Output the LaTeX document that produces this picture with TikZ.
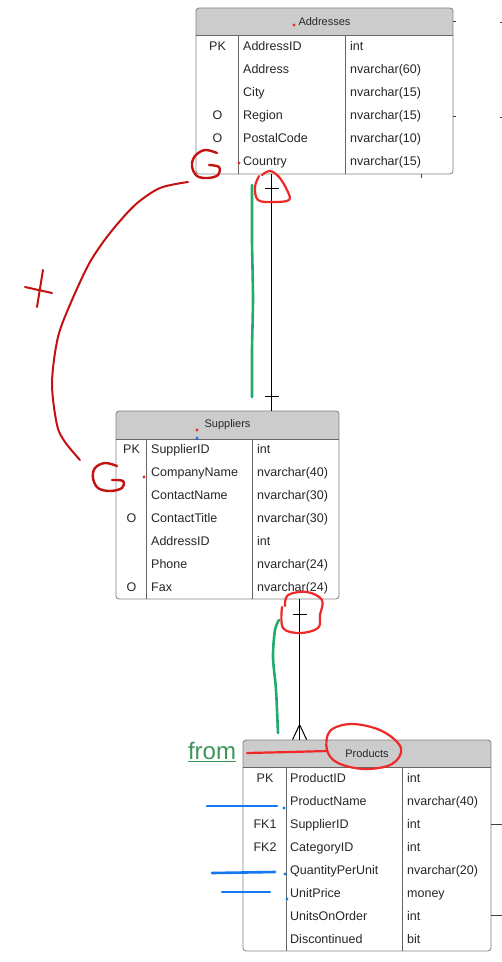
\documentclass[tikz,border=0pt]{standalone}
\usepackage{fontspec}
\setmainfont{Liberation Sans}
\definecolor{hdrgray}{RGB}{204,204,204}
\definecolor{inkred}{RGB}{196,18,18}
\definecolor{brightred}{RGB}{240,40,40}
\definecolor{inkgreen}{RGB}{32,170,110}
\definecolor{inkblue}{RGB}{20,120,240}
\definecolor{fromgreen}{RGB}{60,150,90}
\begin{document}
\begin{tikzpicture}[x=1pt,y=-1pt,
	tbl/.style={ draw=black!50, fill=white, rounded corners=3pt, line width=0.8pt, inner sep=0pt },
	hdr/.style={ path picture={\fill[hdrgray, sharp corners] (path picture bounding box.north west) rectangle ([yshift=-#1]path picture bounding box.north east);} },
	grid/.style={ draw=black!60, line width=0.8pt },
	title/.style={ font=\fontsize{11}{13}\selectfont, text=black!85, inner sep=0pt },
	cell/.style={ font=\fontsize{12.5}{15}\selectfont, text=black!85, inner sep=0pt, text height=9pt, text depth=3pt, anchor=west },
	key/.style={ font=\fontsize{12.5}{15}\selectfont, text=black!85, inner sep=0pt, text height=9pt, text depth=3pt },
	rel/.style={ draw=black, line width=1pt },
	stub/.style={ draw=black!75, line width=1pt },
	pen/.style={ draw=inkred, line width=2.4pt, line cap=round, line join=round },
	loop/.style={ draw=brightred, line width=2.2pt, line cap=round, line join=round },
	gpen/.style={ draw=inkgreen, line width=2.6pt, line cap=round },
	bpen/.style={ draw=inkblue, line width=2.6pt, line cap=round }
]
\useasboundingbox (0,0) rectangle (502,962);

% Addresses
\node[tbl, hdr=28pt, minimum width=257pt, minimum height=166pt] (addr) at (324.5,91) {};
\node[title] (addrT) at ([yshift=-14pt]addr.north) {Addresses};
\draw[grid] ([yshift=-28pt]addr.north west) -- ([yshift=-28pt]addr.north east);
\draw[grid] ([xshift=43pt,yshift=-28pt]addr.north west) -- ([xshift=43pt]addr.south west);
\draw[grid] ([xshift=150pt,yshift=-28pt]addr.north west) -- ([xshift=150pt]addr.south west);
\foreach \k/\n/\t [count=\i] in {PK/AddressID/int, {}/Address/nvarchar(60), {}/City/nvarchar(15), O/Region/nvarchar(15), O/PostalCode/nvarchar(10), {}/Country/nvarchar(15)} {
	\node[key] (addr-k\i) at (217.5,{36+23*\i-12}) {\k};
	\node[cell] (addr-n\i) at (243,{36+23*\i-12}) {\n};
	\node[cell] (addr-t\i) at (350,{36+23*\i-12}) {\t};
}

% Suppliers
\node[tbl, hdr=29pt, minimum width=223pt, minimum height=188pt] (sup) at (227.5,505) {};
\node[title] (supT) at ([yshift=-14.5pt]sup.north) {Suppliers};
\draw[grid] ([yshift=-29pt]sup.north west) -- ([yshift=-29pt]sup.north east);
\draw[grid] ([xshift=31pt,yshift=-29pt]sup.north west) -- ([xshift=31pt]sup.south west);
\draw[grid] ([xshift=137pt,yshift=-29pt]sup.north west) -- ([xshift=137pt]sup.south west);
\foreach \k/\n/\t [count=\i] in {PK/SupplierID/int, {}/CompanyName/nvarchar(40), {}/ContactName/nvarchar(30), O/ContactTitle/nvarchar(30), {}/AddressID/int, {}/Phone/nvarchar(24), O/Fax/nvarchar(24)} {
	\node[key] (sup-k\i) at (131.5,{440+23*\i-13}) {\k};
	\node[cell] (sup-n\i) at (151,{440+23*\i-13}) {\n};
	\node[cell] (sup-t\i) at (257,{440+23*\i-13}) {\t};
}

% Products
\node[key] (prod-card) at (422,746) {(1)};
\node[tbl, hdr=28pt, minimum width=248pt, minimum height=211pt] (prod) at (367,845.5) {};
\node[title] (prodT) at ([yshift=-14pt]prod.north) {Products};
\draw[grid] ([yshift=-28pt]prod.north west) -- ([yshift=-28pt]prod.north east);
\draw[grid] ([xshift=44pt,yshift=-28pt]prod.north west) -- ([xshift=44pt]prod.south west);
\draw[grid] ([xshift=160pt,yshift=-28pt]prod.north west) -- ([xshift=160pt]prod.south west);
\foreach \k/\n/\t [count=\i] in {PK/ProductID/int, {}/ProductName/nvarchar(40), FK1/SupplierID/int, FK2/CategoryID/int, {}/QuantityPerUnit/nvarchar(20), {}/UnitPrice/money, {}/UnitsOnOrder/int, {}/Discontinued/bit} {
	\node[key] (prod-k\i) at (265,{768+23*\i-12}) {\k};
	\node[cell] (prod-n\i) at (290,{768+23*\i-12}) {\n};
	\node[cell] (prod-t\i) at (407,{768+23*\i-12}) {\t};
}

% relationships
\coordinate (a1) at ([xshift=76pt]addr.south west);
\coordinate (s1) at ([xshift=156pt]sup.north west);
\draw[rel] (a1) -- (s1);
\draw[rel] ([xshift=-7pt,yshift=-14pt]a1) -- ([xshift=7pt,yshift=-14pt]a1);
\draw[rel] ([xshift=-7pt,yshift=14pt]s1) -- ([xshift=7pt,yshift=14pt]s1);
\coordinate (s2) at ([xshift=184pt]sup.south west);
\coordinate (p1) at ([xshift=57pt]prod.north west);
\draw[rel] (s2) -- (p1);
\draw[rel] ([xshift=-7pt,yshift=-15pt]s2) -- ([xshift=7pt,yshift=-15pt]s2);
\foreach \dx in {-7,0,7} \draw[rel] ([yshift=15pt]p1) -- ([xshift=\dx pt]p1);

% cut-off connectors
\draw[stub] ([yshift=-14pt]addr.north east) -- ++(3,0);
\draw[stub] ([yshift=-109pt]addr.north east) -- ++(3,0);
\draw[stub] (500,22) -- (502,22);
\draw[stub] (500,117) -- (502,117);
\draw[stub] ([xshift=-32pt]addr.south east) -- ++(0,4);
\draw[stub] ([yshift=-85pt]prod.north east) -- ++(11,0);
\draw[stub, line width=1.6pt] ([yshift=-176pt]prod.north east) -- ++(11,0);

% notes
\draw[pen] plot[smooth, tension=0.6] coordinates {(217,153) (205,150) (195,156) (192,166) (197,176) (208,178) (218,175) (219,167) (209,165)};
\draw[pen] plot[smooth, tension=0.6] coordinates {(117,466) (105,463) (95,468) (93,478) (98,488) (110,491) (122,488) (123,481) (112,480)};
\draw[pen, line width=2pt] plot[smooth] coordinates {(188,182) (160,188) (135,205) (110,233) (90,262) (72,300) (58,337) (52,383) (57,425) (65,442) (80,460)};
\draw[pen, line width=2pt] (25,287) -- (52,293);
\draw[pen, line width=2pt] (43,270) -- (37,307);
\draw[loop] plot[smooth, tension=0.6] coordinates {(262,175) (270,171) (279,177) (287,190) (289,200) (273,202) (258,200) (255,187) (259,176)};
\draw[loop] plot[smooth, tension=0.6] coordinates {(285,606) (288,595) (307,592) (322,600) (320,615) (318,628) (300,633) (283,628) (282,607)};
\draw[loop] plot[smooth cycle, tension=0.6] coordinates {(330,731) (352,724) (382,731) (401,748) (392,764) (365,769) (338,763) (327,750)};
\draw[loop] plot[smooth] coordinates {(247,753) (290,752) (327,751)};
\draw[gpen] plot[smooth, tension=0.4] coordinates {(252,185) (252,240) (253,298) (252,350) (252,397)};
\draw[gpen] plot[smooth] coordinates {(279,620) (275,630) (273,657) (276,690) (278,733)};
\node[font=\fontsize{24}{28}\selectfont, text=fromgreen, inner sep=0pt] (from) at (212,752) {\underline{from}};
\draw[bpen] (207,806) -- (277,806);
\draw[bpen] (212,873) -- (275,872);
\draw[bpen] (222,892) -- (270,892);
\foreach \p in {(284,808),(285,874),(287,899),(197,438)} \fill[inkblue] \p circle (1.6);
\foreach \p in {(294,25),(239,163),(197,430),(144,477)} \fill[brightred] \p circle (1.6);

\end{tikzpicture}
\end{document}
